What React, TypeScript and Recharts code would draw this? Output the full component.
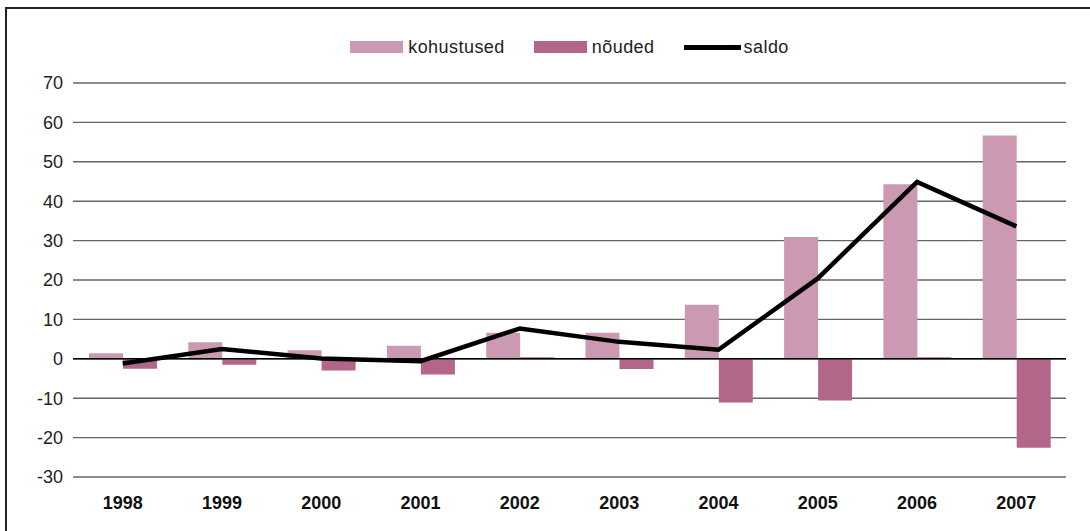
import React from 'react';
import {
  ComposedChart,
  Bar,
  Line,
  XAxis,
  YAxis,
  CartesianGrid,
  Legend,
  ReferenceLine,
} from 'recharts';

const years = ['1998', '1999', '2000', '2001', '2002', '2003', '2004', '2005', '2006', '2007'];
const kohustused = [1.4, 4.2, 2.2, 3.3, 6.6, 6.6, 13.7, 30.9, 44.3, 56.7];
const noudeD = [-2.5, -1.5, -3.0, -4.0, 0.4, -2.6, -11.1, -10.6, 0.4, -22.6];
const saldo = [-1.2, 2.5, 0.1, -0.6, 7.7, 4.3, 2.3, 20.4, 44.9, 33.6];
const yTicks = [-30, -20, -10, 0, 10, 20, 30, 40, 50, 60, 70];

const data = years.map((y, i) => ({
  year: y,
  kohustused: kohustused[i],
  nõuded: noudeD[i],
  saldo: saldo[i],
}));

const FONT = '"Liberation Sans", Arial, Helvetica, sans-serif';
const LIGHT = '#CC99B2';
const DARK = '#B2668A';

const LegendContent = () => (
  <div
    style={{
      height: 50,
      paddingLeft: 73,
      boxSizing: 'border-box',
      display: 'flex',
      justifyContent: 'center',
      alignItems: 'flex-start',
      fontFamily: FONT,
      fontSize: 18,
      letterSpacing: 0.45,
      color: '#222',
    }}
  >
    <div style={{ display: 'flex', alignItems: 'center', height: 20, marginTop: 4 }}>
      <span style={{ display: 'inline-block', width: 53, height: 12, background: LIGHT, marginRight: 5 }} />
      <span style={{ marginRight: 29 }}>kohustused</span>
      <span style={{ display: 'inline-block', width: 53, height: 12, background: DARK, marginRight: 5 }} />
      <span style={{ marginRight: 29 }}>nõuded</span>
      <span style={{ display: 'inline-block', width: 57, height: 5, background: '#000', marginRight: 3 }} />
      <span>saldo</span>
    </div>
  </div>
);

export default function App() {
  return (
    <div style={{ position: 'absolute', left: 0, top: 0, width: 1090, height: 531, overflow: 'hidden', background: '#fff' }}>
      <div
        style={{
          position: 'absolute',
          left: 5,
          top: 7,
          width: 1200,
          height: 700,
          border: '2px solid #222',
          boxSizing: 'border-box',
        }}
      />
      <div style={{ position: 'absolute', left: 0, top: 0 }}>
        <ComposedChart
          width={1090}
          height={531}
          data={data}
          margin={{ top: 33, right: 24, bottom: 0, left: 0 }}
          barGap={0}
        >
          <CartesianGrid vertical={false} stroke="#666" strokeWidth={1.4} />
          <XAxis
            dataKey="year"
            axisLine={false}
            tickLine={false}
            height={54}
            tickSize={0}
            tickMargin={19}
            tick={{ fill: '#111', fontSize: 18, fontWeight: 'bold', fontFamily: FONT }}
            interval={0}
          />
          <YAxis
            domain={[-30, 70]}
            ticks={yTicks}
            axisLine={false}
            tickLine={false}
            width={73}
            tickSize={0}
            tickMargin={10}
            tick={{ fill: '#222', fontSize: 18, fontFamily: FONT }}
            interval={0}
          />
          <Legend verticalAlign="top" content={<LegendContent />} />
          <ReferenceLine y={0} stroke="#000" strokeWidth={1.5} />
          <Bar dataKey="kohustused" fill={LIGHT} barSize={34} isAnimationActive={false} />
          <Bar dataKey="nõuded" fill={DARK} barSize={34} isAnimationActive={false} />
          <Line
            type="linear"
            dataKey="saldo"
            stroke="#000"
            strokeWidth={4.5}
            dot={false}
            activeDot={false}
            isAnimationActive={false}
          />
        </ComposedChart>
      </div>
    </div>
  );
}
